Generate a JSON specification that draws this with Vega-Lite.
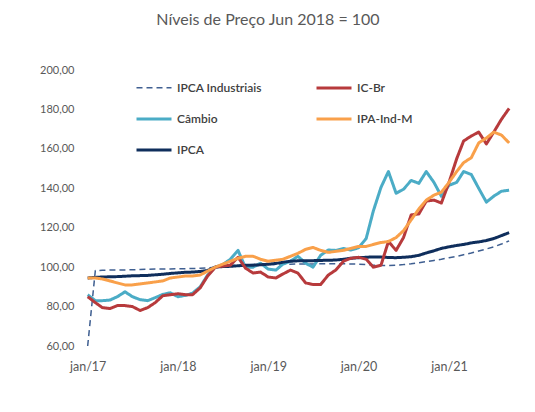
{
  "$schema": "https://vega.github.io/schema/vega-lite/v6.json",
  "width": 440,
  "height": 276,
  "autosize": {"type": "none"},
  "padding": {"left": 80, "top": 70, "right": 15, "bottom": 66},
  "background": "white",
  "title": {
    "text": "Níveis de Preço Jun 2018 = 100",
    "font": "Lato",
    "fontSize": 16,
    "fontWeight": "normal",
    "color": "#595959",
    "anchor": "middle",
    "dx": -32,
    "offset": 36
  },
  "config": {
    "view": {"stroke": null},
    "legend": {
      "title": null,
      "orient": "none",
      "legendX": 55,
      "legendY": -1,
      "columns": 2,
      "columnPadding": 48,
      "rowPadding": 6,
      "symbolType": "stroke",
      "symbolSize": 1225,
      "labelOffset": 4,
      "labelFont": "Lato",
      "labelFontSize": 12,
      "labelFontWeight": 600,
      "labelColor": "#404040"
    }
  },
  "data": {
    "values": [
      {"d": "2017-01", "IPCA Industriais": 60, "IC-Br": 85, "Câmbio": 86, "IPA-Ind-M": 94.5, "IPCA": 94.5},
      {"d": "2017-02", "IPCA Industriais": 98.3, "IC-Br": 82, "Câmbio": 83, "IPA-Ind-M": 94.5, "IPCA": 94.8},
      {"d": "2017-03", "IPCA Industriais": 98.4, "IC-Br": 79.5, "Câmbio": 83, "IPA-Ind-M": 94, "IPCA": 95},
      {"d": "2017-04", "IPCA Industriais": 98.5, "IC-Br": 79, "Câmbio": 83.3, "IPA-Ind-M": 93, "IPCA": 95.1},
      {"d": "2017-05", "IPCA Industriais": 98.5, "IC-Br": 80.5, "Câmbio": 85, "IPA-Ind-M": 92, "IPCA": 95.2},
      {"d": "2017-06", "IPCA Industriais": 98.6, "IC-Br": 80.5, "Câmbio": 87.5, "IPA-Ind-M": 91, "IPCA": 95.4},
      {"d": "2017-07", "IPCA Industriais": 98.7, "IC-Br": 80, "Câmbio": 85, "IPA-Ind-M": 91, "IPCA": 95.6},
      {"d": "2017-08", "IPCA Industriais": 98.8, "IC-Br": 78, "Câmbio": 83.5, "IPA-Ind-M": 91.5, "IPCA": 95.7},
      {"d": "2017-09", "IPCA Industriais": 98.9, "IC-Br": 79.5, "Câmbio": 83, "IPA-Ind-M": 92, "IPCA": 95.8},
      {"d": "2017-10", "IPCA Industriais": 99, "IC-Br": 82, "Câmbio": 84.5, "IPA-Ind-M": 92.5, "IPCA": 96.1},
      {"d": "2017-11", "IPCA Industriais": 99, "IC-Br": 85.5, "Câmbio": 86.2, "IPA-Ind-M": 93, "IPCA": 96.4},
      {"d": "2017-12", "IPCA Industriais": 99.1, "IC-Br": 86, "Câmbio": 87, "IPA-Ind-M": 94.5, "IPCA": 96.8},
      {"d": "2018-01", "IPCA Industriais": 99.2, "IC-Br": 86.5, "Câmbio": 85, "IPA-Ind-M": 95, "IPCA": 97.1},
      {"d": "2018-02", "IPCA Industriais": 99.2, "IC-Br": 86, "Câmbio": 85.7, "IPA-Ind-M": 95.5, "IPCA": 97.4},
      {"d": "2018-03", "IPCA Industriais": 99.3, "IC-Br": 86, "Câmbio": 86.8, "IPA-Ind-M": 95.5, "IPCA": 97.5},
      {"d": "2018-04", "IPCA Industriais": 99.4, "IC-Br": 89.5, "Câmbio": 90, "IPA-Ind-M": 96, "IPCA": 97.8},
      {"d": "2018-05", "IPCA Industriais": 99.6, "IC-Br": 95.5, "Câmbio": 96, "IPA-Ind-M": 98, "IPCA": 98.3},
      {"d": "2018-06", "IPCA Industriais": 100, "IC-Br": 100, "Câmbio": 100, "IPA-Ind-M": 100, "IPCA": 100},
      {"d": "2018-07", "IPCA Industriais": 100.4, "IC-Br": 100.5, "Câmbio": 101.3, "IPA-Ind-M": 101.5, "IPCA": 100.3},
      {"d": "2018-08", "IPCA Industriais": 100.7, "IC-Br": 101, "Câmbio": 104, "IPA-Ind-M": 103, "IPCA": 100.4},
      {"d": "2018-09", "IPCA Industriais": 101, "IC-Br": 105, "Câmbio": 108.5, "IPA-Ind-M": 104.5, "IPCA": 100.7},
      {"d": "2018-10", "IPCA Industriais": 101.2, "IC-Br": 99.5, "Câmbio": 99.8, "IPA-Ind-M": 105.5, "IPCA": 100.9},
      {"d": "2018-11", "IPCA Industriais": 101.3, "IC-Br": 97, "Câmbio": 100, "IPA-Ind-M": 105.5, "IPCA": 101},
      {"d": "2018-12", "IPCA Industriais": 101.3, "IC-Br": 97.5, "Câmbio": 102, "IPA-Ind-M": 104, "IPCA": 101.2},
      {"d": "2019-01", "IPCA Industriais": 101.3, "IC-Br": 95, "Câmbio": 99, "IPA-Ind-M": 103, "IPCA": 101.5},
      {"d": "2019-02", "IPCA Industriais": 101.4, "IC-Br": 94.5, "Câmbio": 98.5, "IPA-Ind-M": 103.5, "IPCA": 101.9},
      {"d": "2019-03", "IPCA Industriais": 101.5, "IC-Br": 96.5, "Câmbio": 101.5, "IPA-Ind-M": 104, "IPCA": 102.5},
      {"d": "2019-04", "IPCA Industriais": 101.5, "IC-Br": 98.5, "Câmbio": 103, "IPA-Ind-M": 105.5, "IPCA": 103},
      {"d": "2019-05", "IPCA Industriais": 101.6, "IC-Br": 97, "Câmbio": 105.5, "IPA-Ind-M": 107, "IPCA": 103.2},
      {"d": "2019-06", "IPCA Industriais": 101.6, "IC-Br": 92, "Câmbio": 102, "IPA-Ind-M": 109, "IPCA": 103.3},
      {"d": "2019-07", "IPCA Industriais": 101.6, "IC-Br": 91.2, "Câmbio": 100, "IPA-Ind-M": 110, "IPCA": 103.3},
      {"d": "2019-08", "IPCA Industriais": 101.7, "IC-Br": 91.2, "Câmbio": 106, "IPA-Ind-M": 108.5, "IPCA": 103.4},
      {"d": "2019-09", "IPCA Industriais": 101.7, "IC-Br": 96, "Câmbio": 108.7, "IPA-Ind-M": 107.5, "IPCA": 103.5},
      {"d": "2019-10", "IPCA Industriais": 101.7, "IC-Br": 98.5, "Câmbio": 108.5, "IPA-Ind-M": 108, "IPCA": 103.6},
      {"d": "2019-11", "IPCA Industriais": 101.7, "IC-Br": 103, "Câmbio": 109.5, "IPA-Ind-M": 108.5, "IPCA": 104},
      {"d": "2019-12", "IPCA Industriais": 101.6, "IC-Br": 104.5, "Câmbio": 108.7, "IPA-Ind-M": 109.5, "IPCA": 104.5},
      {"d": "2020-01", "IPCA Industriais": 101.5, "IC-Br": 105, "Câmbio": 109.8, "IPA-Ind-M": 110.5, "IPCA": 104.8},
      {"d": "2020-02", "IPCA Industriais": 101.3, "IC-Br": 104, "Câmbio": 114.5, "IPA-Ind-M": 110.5, "IPCA": 105},
      {"d": "2020-03", "IPCA Industriais": 101, "IC-Br": 100, "Câmbio": 128.5, "IPA-Ind-M": 111.5, "IPCA": 105.2},
      {"d": "2020-04", "IPCA Industriais": 100.8, "IC-Br": 101, "Câmbio": 140.5, "IPA-Ind-M": 112.5, "IPCA": 105.1},
      {"d": "2020-05", "IPCA Industriais": 100.8, "IC-Br": 113, "Câmbio": 148.5, "IPA-Ind-M": 113, "IPCA": 104.9},
      {"d": "2020-06", "IPCA Industriais": 101, "IC-Br": 108.5, "Câmbio": 137.5, "IPA-Ind-M": 115, "IPCA": 104.8},
      {"d": "2020-07", "IPCA Industriais": 101.3, "IC-Br": 115, "Câmbio": 139.5, "IPA-Ind-M": 118.5, "IPCA": 105},
      {"d": "2020-08", "IPCA Industriais": 101.7, "IC-Br": 126.5, "Câmbio": 144, "IPA-Ind-M": 124, "IPCA": 105.3},
      {"d": "2020-09", "IPCA Industriais": 102.2, "IC-Br": 127, "Câmbio": 142.5, "IPA-Ind-M": 129.5, "IPCA": 106},
      {"d": "2020-10", "IPCA Industriais": 102.8, "IC-Br": 133.5, "Câmbio": 148.5, "IPA-Ind-M": 134, "IPCA": 107.2},
      {"d": "2020-11", "IPCA Industriais": 103.4, "IC-Br": 134, "Câmbio": 143, "IPA-Ind-M": 136.5, "IPCA": 108.3},
      {"d": "2020-12", "IPCA Industriais": 104, "IC-Br": 132.5, "Câmbio": 136, "IPA-Ind-M": 138, "IPCA": 109.5},
      {"d": "2021-01", "IPCA Industriais": 104.8, "IC-Br": 143, "Câmbio": 141.5, "IPA-Ind-M": 143, "IPCA": 110.3},
      {"d": "2021-02", "IPCA Industriais": 105.5, "IC-Br": 155, "Câmbio": 143, "IPA-Ind-M": 148.5, "IPCA": 111},
      {"d": "2021-03", "IPCA Industriais": 106.3, "IC-Br": 164, "Câmbio": 148.5, "IPA-Ind-M": 153, "IPCA": 111.5},
      {"d": "2021-04", "IPCA Industriais": 107.2, "IC-Br": 166.5, "Câmbio": 147, "IPA-Ind-M": 155.5, "IPCA": 112.3},
      {"d": "2021-05", "IPCA Industriais": 108.2, "IC-Br": 168.5, "Câmbio": 140, "IPA-Ind-M": 163, "IPCA": 112.8},
      {"d": "2021-06", "IPCA Industriais": 109.2, "IC-Br": 162.5, "Câmbio": 133, "IPA-Ind-M": 165.5, "IPCA": 113.5},
      {"d": "2021-07", "IPCA Industriais": 110.3, "IC-Br": 168.5, "Câmbio": 136, "IPA-Ind-M": 168.5, "IPCA": 114.5},
      {"d": "2021-08", "IPCA Industriais": 111.7, "IC-Br": 175, "Câmbio": 138.5, "IPA-Ind-M": 167, "IPCA": 116},
      {"d": "2021-09", "IPCA Industriais": 113.3, "IC-Br": 180.5, "Câmbio": 139, "IPA-Ind-M": 163, "IPCA": 117.5}
    ]
  },
  "transform": [
    {"fold": ["IPCA Industriais", "Câmbio", "IPCA", "IC-Br", "IPA-Ind-M"], "as": ["serie", "valor"]}
  ],
  "mark": {"type": "line", "strokeCap": "butt", "strokeJoin": "round"},
  "encoding": {
    "x": {
      "field": "d",
      "type": "temporal",
      "scale": {"domain": [{"year": 2016, "month": 12, "date": 1}, {"year": 2021, "month": 10, "date": 15}]},
      "axis": {
        "title": null,
        "tickCount": {"interval": "year", "step": 1},
        "labelExpr": "'jan/' + timeFormat(datum.value, '%y')",
        "grid": false,
        "domain": false,
        "ticks": false,
        "labelPadding": 14,
        "labelFont": "Lato",
        "labelFontSize": 12.5,
        "labelColor": "#595959",
        "labelDx": 3
      }
    },
    "y": {
      "field": "valor",
      "type": "quantitative",
      "scale": {"domain": [60, 200], "nice": false, "zero": false},
      "axis": {
        "title": null,
        "values": [60, 80, 100, 120, 140, 160, 180, 200],
        "labelExpr": "replace(format(datum.value, '.2f'), '.', ',')",
        "grid": false,
        "domain": false,
        "ticks": false,
        "labelPadding": 6,
        "labelFont": "Lato",
        "labelFontSize": 11,
        "labelColor": "#595959"
      }
    },
    "color": {
      "field": "serie",
      "type": "nominal",
      "sort": ["IPCA Industriais", "Câmbio", "IPCA", "IC-Br", "IPA-Ind-M"],
      "scale": {
        "domain": ["IPCA Industriais", "Câmbio", "IPCA", "IC-Br", "IPA-Ind-M"],
        "range": ["#3F5F91", "#4BACC6", "#0F2E5C", "#B73A3C", "#F9A04A"]
      }
    },
    "strokeDash": {
      "field": "serie",
      "type": "nominal",
      "sort": ["IPCA Industriais", "Câmbio", "IPCA", "IC-Br", "IPA-Ind-M"],
      "scale": {
        "domain": ["IPCA Industriais", "Câmbio", "IPCA", "IC-Br", "IPA-Ind-M"],
        "range": [[6, 4], [1, 0], [1, 0], [1, 0], [1, 0]]
      }
    },
    "strokeWidth": {
      "field": "serie",
      "type": "nominal",
      "sort": ["IPCA Industriais", "Câmbio", "IPCA", "IC-Br", "IPA-Ind-M"],
      "scale": {
        "type": "ordinal",
        "domain": ["IPCA Industriais", "Câmbio", "IPCA", "IC-Br", "IPA-Ind-M"],
        "range": [1.5, 3, 3, 3, 3]
      }
    }
  }
}
